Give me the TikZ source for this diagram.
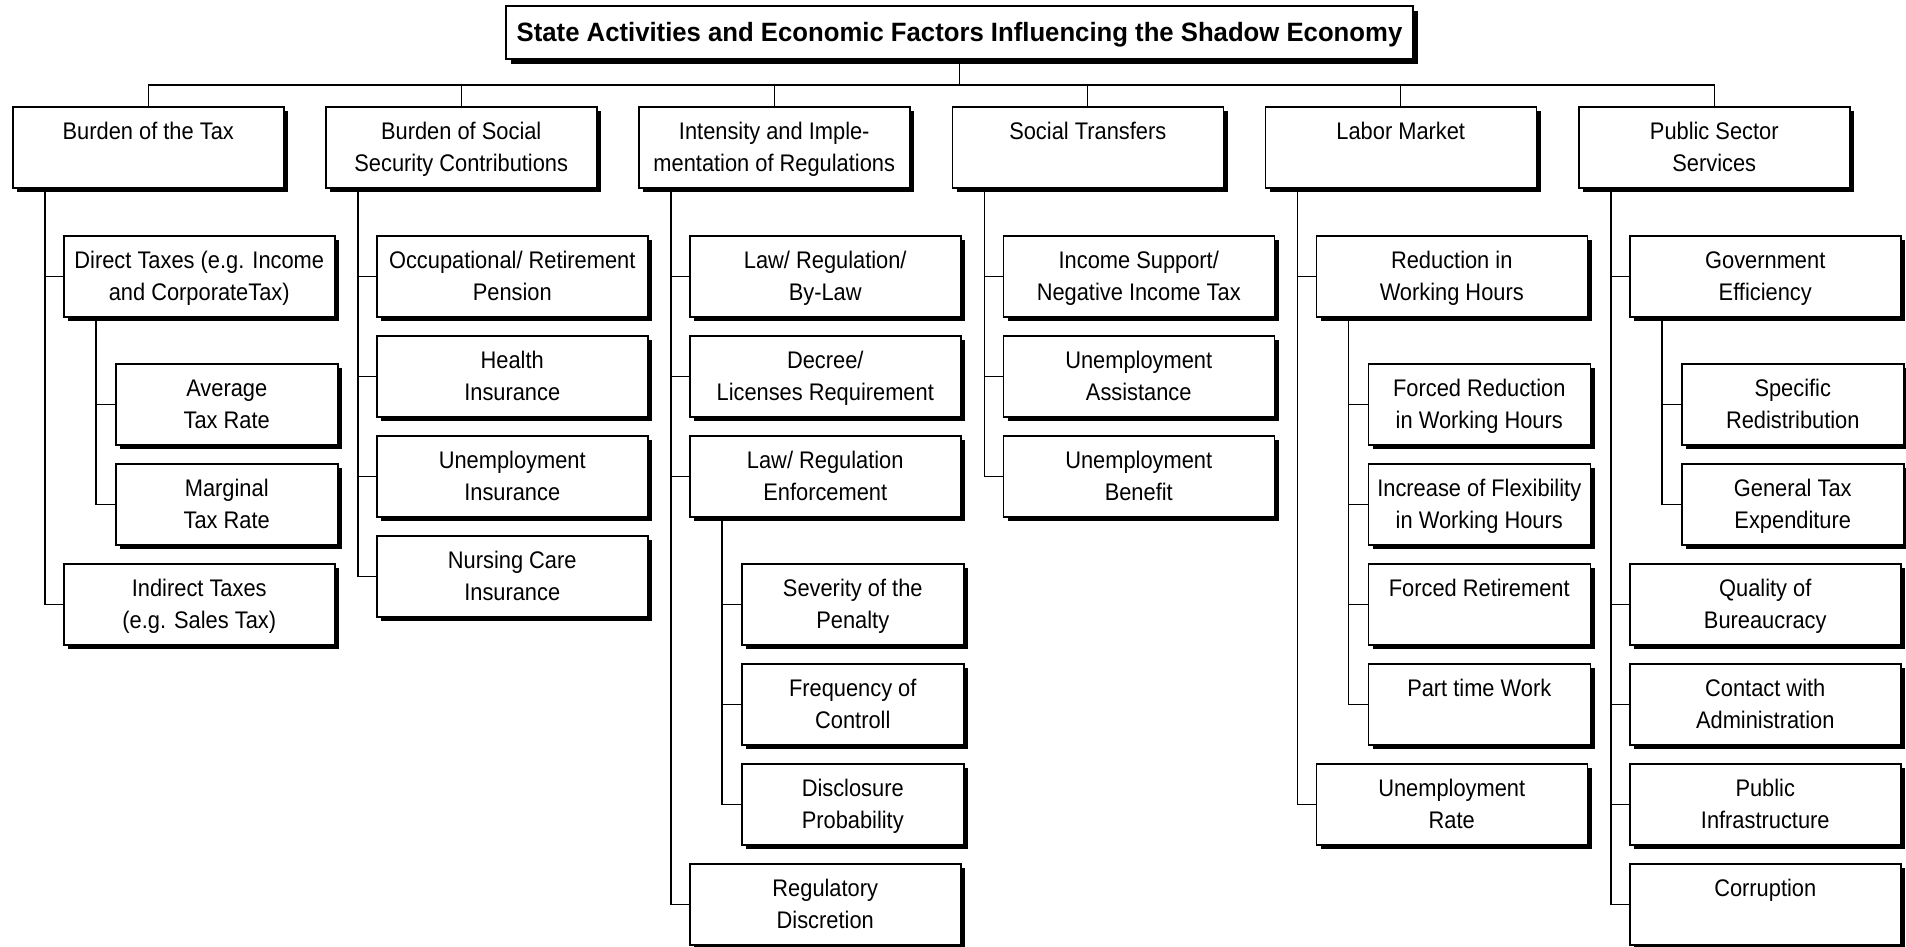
\documentclass[tikz,border=0pt]{standalone}
\usepackage{fontspec}
\setmainfont{Liberation Sans}[FakeStretch=0.91]
\newfontfamily\titlefont{Liberation Sans}[FakeStretch=0.97]
\usetikzlibrary{shadows}
\newcommand\mystrut{\rule[-5pt]{0pt}{27pt}}
\newcommand\twol[2]{\mystrut#1\\\mystrut#2}
\tikzset{
  box/.style={draw, line width=1.5pt, fill=white, inner sep=0pt, align=center,
    font=\fontsize{24}{32}\selectfont, minimum height=81pt, anchor=north west,
    drop shadow={shadow xshift=4.5pt, shadow yshift=-4.5pt, opacity=1, fill=black}},
  lvA/.style={box, minimum width=271pt},
  lvB/.style={box, minimum width=271pt},
  lvC/.style={box, minimum width=222pt},
  titlebox/.style={draw, line width=1.5pt, fill=white, inner sep=0pt,
    font=\titlefont\bfseries\fontsize{26.5}{30}\selectfont,
    minimum width=907pt, minimum height=53pt, text height=20pt, text depth=3pt,
    drop shadow={shadow xshift=4.5pt, shadow yshift=-4.5pt, opacity=1, fill=black}},
  conn/.style={draw, line width=1.4pt}
}
\begin{document}
\begin{tikzpicture}[x=1pt,y=-1pt]
\useasboundingbox (0,0) rectangle (1906,946);
% title
\node[titlebox] (title) at (959.5,32.5) {State Activities and Economic Factors Influencing the Shadow Economy};
% column 1
\node[lvA] (t1) at (12,106) {\twol{Burden of the Tax}{}};
\node[lvB] (a1) at (63,235) {\twol{Direct Taxes (e.g. Income}{and CorporateTax)}};
\node[lvC] (a1x) at (115,363) {\twol{Average}{Tax Rate}};
\node[lvC] (a1y) at (115,463) {\twol{Marginal}{Tax Rate}};
\node[lvB] (a2) at (63,563) {\twol{Indirect Taxes}{(e.g. Sales Tax)}};
% column 2
\node[lvA] (t2) at (325,106) {\twol{Burden of Social}{Security Contributions}};
\node[lvB] (b1) at (376,235) {\twol{Occupational/ Retirement}{Pension}};
\node[lvB] (b2) at (376,335) {\twol{Health}{Insurance}};
\node[lvB] (b3) at (376,435) {\twol{Unemployment}{Insurance}};
\node[lvB] (b4) at (376,535) {\twol{Nursing Care}{Insurance}};
% column 3
\node[lvA] (t3) at (638,106) {\twol{Intensity and Imple-}{mentation of Regulations}};
\node[lvB] (c1) at (689,235) {\twol{Law/ Regulation/}{By-Law}};
\node[lvB] (c2) at (689,335) {\twol{Decree/}{Licenses Requirement}};
\node[lvB] (c3) at (689,435) {\twol{Law/ Regulation}{Enforcement}};
\node[lvC] (c3a) at (741,563) {\twol{Severity of the}{Penalty}};
\node[lvC] (c3b) at (741,663) {\twol{Frequency of}{Controll}};
\node[lvC] (c3c) at (741,763) {\twol{Disclosure}{Probability}};
\node[lvB] (c4) at (689,863) {\twol{Regulatory}{Discretion}};
% column 4
\node[lvA] (t4) at (951.5,106) {\twol{Social Transfers}{}};
\node[lvB] (d1) at (1002.5,235) {\twol{Income Support/}{Negative Income Tax}};
\node[lvB] (d2) at (1002.5,335) {\twol{Unemployment}{Assistance}};
\node[lvB] (d3) at (1002.5,435) {\twol{Unemployment}{Benefit}};
% column 5
\node[lvA] (t5) at (1264.5,106) {\twol{Labor Market}{}};
\node[lvB] (e1) at (1315.5,235) {\twol{Reduction in}{Working Hours}};
\node[lvC] (e1a) at (1367.5,363) {\twol{Forced Reduction}{in Working Hours}};
\node[lvC] (e1b) at (1367.5,463) {\twol{Increase of Flexibility}{in Working Hours}};
\node[lvC] (e1c) at (1367.5,563) {\twol{Forced Retirement}{}};
\node[lvC] (e1d) at (1367.5,663) {\twol{Part time Work}{}};
\node[lvB] (e2) at (1315.5,763) {\twol{Unemployment}{Rate}};
% column 6
\node[lvA] (t6) at (1578,106) {\twol{Public Sector}{Services}};
\node[lvB] (f1) at (1629,235) {\twol{Government}{Efficiency}};
\node[lvC] (f1a) at (1681,363) {\twol{Specific}{Redistribution}};
\node[lvC] (f1b) at (1681,463) {\twol{General Tax}{Expenditure}};
\node[lvB] (f2) at (1629,563) {\twol{Quality of}{Bureaucracy}};
\node[lvB] (f3) at (1629,663) {\twol{Contact with}{Administration}};
\node[lvB] (f4) at (1629,763) {\twol{Public}{Infrastructure}};
\node[lvB] (f5) at (1629,863) {\twol{Corruption}{}};
% bus
\coordinate (bus) at (0,85);
\draw[conn] (title.south) -- (title.south |- bus);
\draw[conn] (t1.north) |- (bus -| t6.north) -- (t6.north);
\foreach \n in {t2,t3,t4,t5}{\draw[conn] (\n.north) -- (\n.north |- bus);}
% trunks
\foreach \p/\c in {t1/a1,t1/a2,a1/a1x,a1/a1y,
  t2/b1,t2/b2,t2/b3,t2/b4,
  t3/c1,t3/c2,t3/c3,t3/c4,c3/c3a,c3/c3b,c3/c3c,
  t4/d1,t4/d2,t4/d3,
  t5/e1,t5/e2,e1/e1a,e1/e1b,e1/e1c,e1/e1d,
  t6/f1,t6/f2,t6/f3,t6/f4,t6/f5,f1/f1a,f1/f1b}
  {\draw[conn] ([xshift=33pt]\p.south west) |- (\c.west);}
\end{tikzpicture}
\end{document}
